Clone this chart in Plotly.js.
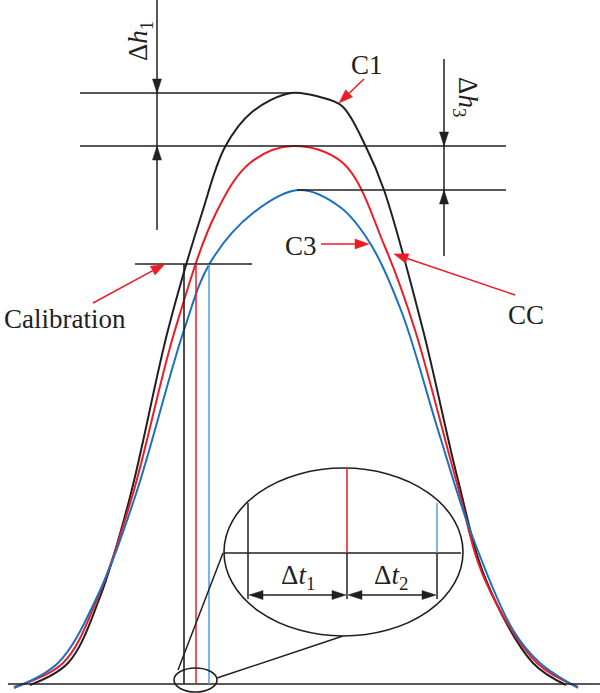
<!DOCTYPE html>
<html><head><meta charset="utf-8">
<script src="https://cdn.plot.ly/plotly-3.0.1.min.js"></script>
<style>html,body{margin:0;padding:0;background:#fff}#chart{width:600px;height:693px}</style>
</head><body><div id="chart"></div>
<script>
// Curve samples (horizontal position, vertical position from top)
const c1X = [30, 68, 100, 130, 168, 202, 225, 252, 291, 320, 342, 366, 384, 423, 458, 486, 533, 566];
const c1Y = [685, 663, 597, 497, 330, 213, 147, 112, 93, 97, 106, 147, 190, 330, 480, 580, 663, 685];
const ccX = [14, 63, 98, 132, 175, 216, 250, 293, 343, 385, 415, 456, 485, 537, 578];
const ccY = [687, 663, 597, 497, 330, 213, 163, 146, 163, 247, 330, 480, 580, 663, 687];
const c3X = [14, 58, 97, 135, 184, 210, 253, 299, 340, 370, 402, 438, 470, 513, 540, 578];
const c3Y = [688, 663, 597, 497, 330, 263, 213, 190, 207, 243, 313, 430, 530, 630, 663, 688];
const curveNames = ['C1', 'CC', 'C3'];
const labelTexts = ['C1', 'C3', 'CC', 'Calibration', 'Δ<i>h</i><sub>1</sub>', 'Δ<i>h</i><sub>3</sub>', 'Δ<i>t</i><sub>1</sub>', 'Δ<i>t</i><sub>2</sub>'];

const BLACK = '#231f20', RED = '#ed1c24', BLUE = '#1c6fc1', LBLUE = '#4d9be6';
const FONT = '"Liberation Serif", "Times New Roman", serif';

const traces = [
  {x: c1X, y: c1Y, name: curveNames[0], mode: 'lines', line: {color: BLACK, width: 2, shape: 'spline', smoothing: 1}},
  {x: ccX, y: ccY, name: curveNames[1], mode: 'lines', line: {color: RED, width: 2, shape: 'spline', smoothing: 1}},
  {x: c3X, y: c3Y, name: curveNames[2], mode: 'lines', line: {color: BLUE, width: 2, shape: 'spline', smoothing: 1}}
];

const shapes = [];
function line(x0, y0, x1, y1, color, w) {
  shapes.push({type: 'line', xref: 'x', yref: 'y', x0, y0, x1, y1, line: {color, width: w || 1.5}, layer: 'above'});
}
function head(tx, ty, fx, fy, color, len, hw) {
  const dx = tx - fx, dy = ty - fy, L = Math.hypot(dx, dy);
  const ux = dx / L, uy = dy / L, px = -uy, py = ux;
  const bx = tx - ux * len, by = ty - uy * len;
  shapes.push({type: 'path', xref: 'x', yref: 'y', fillcolor: color, line: {color, width: 0.5}, layer: 'above',
    path: `M${tx},${ty} L${bx + px * hw},${by + py * hw} L${bx - px * hw},${by - py * hw} Z`});
  return [bx, by];
}
function arrow(fx, fy, tx, ty, color, len, hw, w) {
  const b = head(tx, ty, fx, fy, color, len, hw);
  line(fx, fy, b[0], b[1], color, w);
}

// baseline and reference levels
line(8, 684, 600, 684, BLACK, 1.6);
line(80, 93, 291, 93, BLACK);
line(80, 146, 506, 146, BLACK);
line(297, 190, 506, 190, BLACK);
line(135, 264, 252, 264, BLACK);
// delta h1 dimension
line(157, 0, 157, 230, BLACK);
head(157, 93, 157, 70, BLACK, 14, 4.5);
head(157, 146, 157, 170, BLACK, 14, 4.5);
// delta h3 dimension
line(444, 59, 444, 256, BLACK);
head(444, 146, 444, 120, BLACK, 14, 4.5);
head(444, 190, 444, 215, BLACK, 14, 4.5);
// calibration verticals
line(184, 264, 184, 684, BLACK, 1.6);
line(196, 264, 196, 684, RED, 1.5);
line(209, 264, 209, 684, LBLUE, 1.5);
// zoom ellipses
shapes.push({type: 'circle', xref: 'x', yref: 'y', x0: 174, x1: 217, y0: 668, y1: 692, line: {color: BLACK, width: 1.6}, layer: 'above'});
shapes.push({type: 'circle', xref: 'x', yref: 'y', x0: 224, x1: 463, y0: 468, y1: 636, line: {color: BLACK, width: 1.6}, layer: 'above'});
line(178, 670, 223, 553, BLACK, 1.5);
line(217, 678, 343, 636, BLACK, 1.5);
// inside big ellipse
line(224, 553, 461, 553, BLACK, 1.5);
line(248, 503, 248, 599, BLACK, 1.5);
line(347, 468, 347, 553, RED, 1.5);
line(347, 553, 347, 599, BLACK, 1.5);
line(437, 503, 437, 553, LBLUE, 1.5);
line(437, 553, 437, 599, BLACK, 1.5);
// delta t double arrows
head(249, 595, 300, 595, BLACK, 14, 4.5);
head(346, 595, 300, 595, BLACK, 14, 4.5);
line(263, 595, 332, 595, BLACK, 1.6);
head(348, 595, 390, 595, BLACK, 14, 4.5);
head(436, 595, 390, 595, BLACK, 14, 4.5);
line(362, 595, 422, 595, BLACK, 1.6);
// red pointer arrows
arrow(364, 79, 339, 103, RED, 14, 5, 1.5);
arrow(321, 244, 369, 244, RED, 14, 5, 1.5);
arrow(515, 295, 394, 254, RED, 14, 5, 1.5);
arrow(93, 303, 165, 264, RED, 14, 5, 1.5);

function label(text, x, y, size, angle) {
  return {text, x, y, xref: 'x', yref: 'y', showarrow: false, xanchor: 'center', yanchor: 'middle',
    textangle: angle || 0, font: {family: FONT, size, color: BLACK}};
}
const annotations = [
  label(labelTexts[0], 367, 65, 27),
  label(labelTexts[1], 301, 246, 27),
  label(labelTexts[2], 526, 315, 27),
  label(labelTexts[3], 65, 319, 27),
  label(labelTexts[4], 140, 41, 27, -90),
  label(labelTexts[5], 466, 97, 27, 90),
  label(labelTexts[6], 298, 577, 27),
  label(labelTexts[7], 391, 577, 27)
];

const layout = {
  width: 600, height: 693,
  margin: {l: 0, r: 0, t: 0, b: 0},
  paper_bgcolor: '#fff', plot_bgcolor: '#fff',
  showlegend: false,
  xaxis: {range: [0, 600], visible: false, fixedrange: true},
  yaxis: {range: [693, 0], visible: false, fixedrange: true},
  shapes, annotations
};
Plotly.newPlot('chart', traces, layout, {staticPlot: true, displayModeBar: false});
</script>
</body></html>
